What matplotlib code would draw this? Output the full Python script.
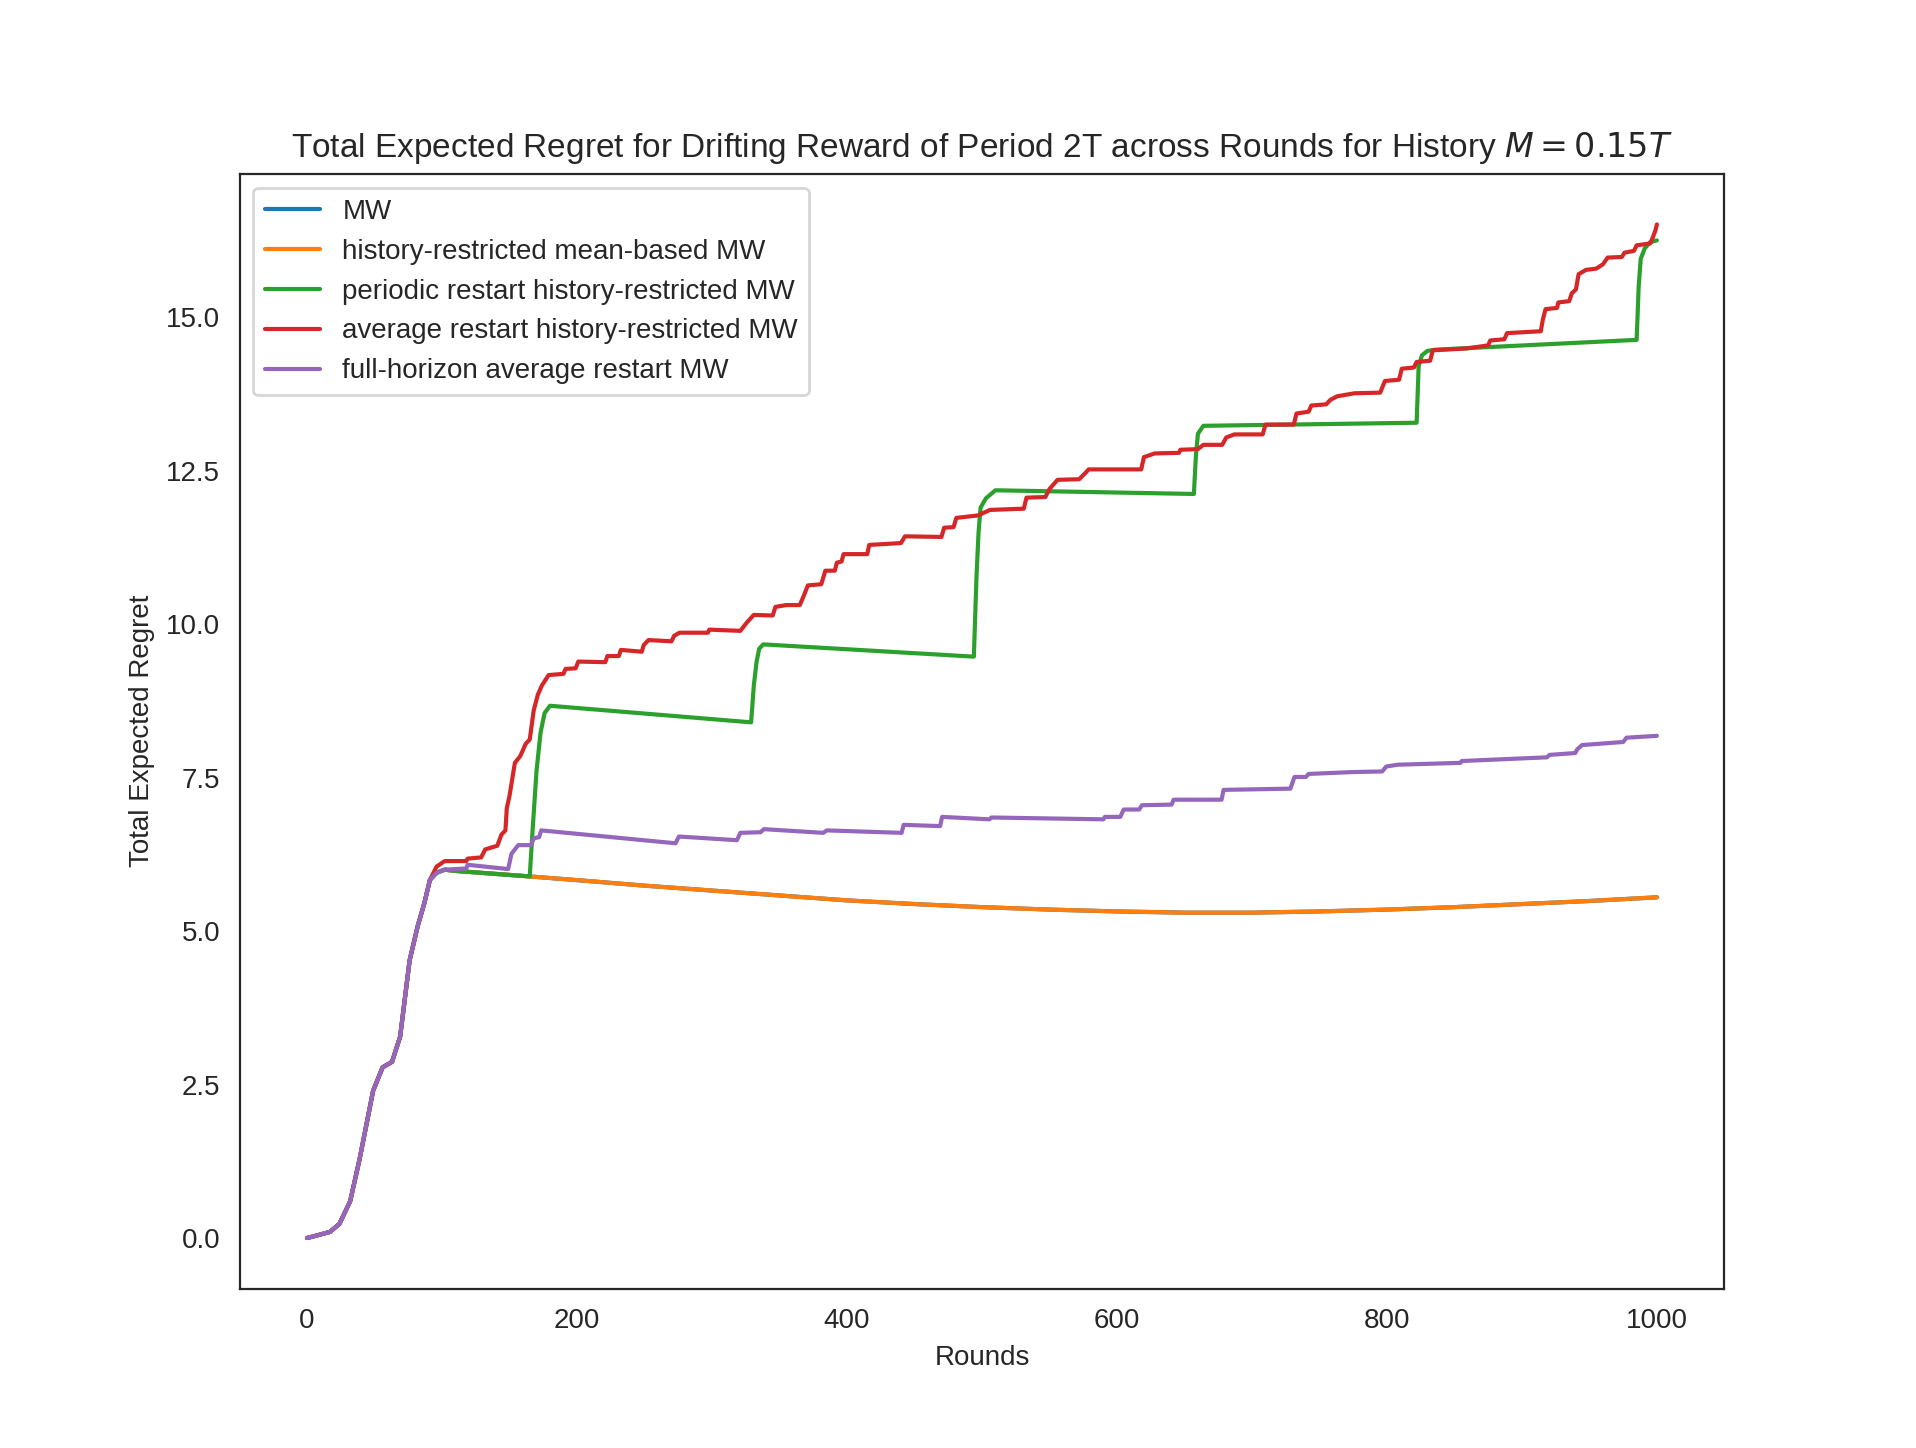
import matplotlib
matplotlib.use('Agg')
import matplotlib.pyplot as plt
import seaborn as sns

# values (round, total expected regret)
rise_x = [0, 7, 17, 24, 32, 39, 49, 56, 63, 69, 76, 82, 87, 91, 96, 102]
rise_y = [0, 0.04, 0.10, 0.23, 0.60, 1.29, 2.40, 2.78, 2.87, 3.28, 4.52, 5.08, 5.46, 5.83, 5.95, 6.0]

mw_x = [110, 165, 200, 250, 300, 350, 400, 450, 500, 550, 600, 650, 700, 750, 800, 850, 900, 950, 1000]
mw_y = [5.98, 5.89, 5.83, 5.74, 5.66, 5.58, 5.50, 5.44, 5.39, 5.35, 5.32, 5.30, 5.30, 5.32, 5.35, 5.39, 5.44, 5.49, 5.55]

periodic_x = [110, 165, 167, 170, 173, 176, 180, 329, 331, 333, 335, 338, 494, 496, 497.5, 499, 503, 510,
              657, 658.5, 660, 664, 822, 823.5, 826, 830, 836, 985, 986.5, 988, 991, 995, 1000]
periodic_y = [5.98, 5.89, 6.6, 7.6, 8.23, 8.55, 8.67, 8.40, 9.0, 9.38, 9.6, 9.67, 9.47, 10.8, 11.5, 11.9, 12.05, 12.18,
              12.12, 12.75, 13.1, 13.23, 13.28, 14.2, 14.38, 14.45, 14.47, 14.63, 15.5, 15.95, 16.12, 16.22, 16.25]

avg_x = [96, 102, 118, 119, 129, 132, 141, 144, 147, 148, 150, 154, 158, 162, 165, 168, 171, 174, 179,
         190, 191.5, 199, 201, 221, 222.5, 231, 232.5, 248, 249.5, 253, 270, 272, 276, 297, 298, 321, 326,
         331, 345, 347, 355, 365, 368, 371, 381, 384, 391, 392.5, 396, 397.5, 415, 416.5, 440, 443, 470,
         472, 479, 481, 497, 500, 506, 531, 533, 547, 550, 556, 572, 577, 579, 618, 620, 628, 646, 647,
         660, 664, 678, 681, 687, 708, 710, 731, 733, 742, 744, 755, 758, 763, 776, 795, 798.5, 809, 811,
         820, 822, 832, 834, 859, 875, 876.5, 887, 889, 914, 915.5, 917.5, 926, 927, 935, 937, 940, 942,
         947.5, 955, 960, 963.5, 974, 976, 983, 985, 995, 997, 999, 1000]
avg_y = [6.05, 6.14, 6.14, 6.18, 6.20, 6.33, 6.39, 6.57, 6.64, 7.0, 7.2, 7.74, 7.85, 8.05, 8.12, 8.6, 8.85, 9.0, 9.17,
         9.19, 9.27, 9.28, 9.39, 9.38, 9.48, 9.48, 9.58, 9.55, 9.66, 9.74, 9.72, 9.81, 9.86, 9.86, 9.91, 9.89, 10.03,
         10.15, 10.14, 10.28, 10.31, 10.31, 10.46, 10.63, 10.65, 10.87, 10.87, 11.0, 11.02, 11.14, 11.14, 11.29, 11.32, 11.43, 11.42,
         11.57, 11.58, 11.73, 11.77, 11.8, 11.86, 11.88, 12.06, 12.07, 12.2, 12.35, 12.36, 12.47, 12.52, 12.52, 12.72, 12.78, 12.79, 12.84,
         12.85, 12.92, 12.92, 13.04, 13.09, 13.09, 13.25, 13.25, 13.43, 13.46, 13.56, 13.58, 13.65, 13.71, 13.76, 13.77, 13.96, 13.98, 14.16,
         14.18, 14.27, 14.29, 14.46, 14.49, 14.54, 14.62, 14.64, 14.74, 14.77, 14.96, 15.13, 15.15, 15.24, 15.26, 15.39, 15.45, 15.70,
         15.77, 15.79, 15.86, 15.97, 15.98, 16.05, 16.08, 16.17, 16.20, 16.30, 16.42, 16.51]

full_x = [118, 119, 149, 151.5, 156.5, 166, 168, 172, 173.5, 273, 275.5, 318.5, 321, 336, 338.5, 382.5, 385,
          440.5, 442, 469, 470.5, 505.5, 507, 590, 591, 602.5, 605, 616.5, 618.5, 640.5, 642, 677.5, 679,
          728.5, 731.5, 740, 742, 775, 796.5, 799.5, 808, 854.5, 855.5, 918.5, 920.5, 939.5, 941, 944.5,
          975, 977.5, 1000]
full_y = [6.02, 6.08, 6.01, 6.26, 6.40, 6.40, 6.51, 6.53, 6.64, 6.43, 6.54, 6.48, 6.60, 6.61, 6.66, 6.60, 6.64,
          6.60, 6.73, 6.71, 6.86, 6.82, 6.85, 6.82, 6.86, 6.86, 6.98, 6.98, 7.05, 7.06, 7.14, 7.14, 7.30,
          7.32, 7.51, 7.51, 7.56, 7.59, 7.60, 7.68, 7.71, 7.74, 7.77, 7.83, 7.87, 7.90, 7.96, 8.03,
          8.08, 8.15, 8.18]

sns.set_style('white')
plt.rcParams['font.family'] = ['Liberation Sans', 'DejaVu Sans']

fig, ax = plt.subplots(figsize=(9.58, 7.24), dpi=200)
ax.plot(rise_x + mw_x, rise_y + mw_y, label='MW')
ax.plot(rise_x + mw_x, rise_y + mw_y, label='history-restricted mean-based MW')
ax.plot(rise_x + periodic_x, rise_y + periodic_y, label='periodic restart history-restricted MW')
ax.plot(rise_x[:-2] + avg_x, rise_y[:-2] + avg_y, label='average restart history-restricted MW')
ax.plot(rise_x + full_x, rise_y + full_y, label='full-horizon average restart MW')

ax.set_title('Total Expected Regret for Drifting Reward of Period 2T across Rounds for History $M = 0.15T$')
ax.set_xlabel('Rounds')
ax.set_ylabel('Total Expected Regret')
ax.legend(loc='upper left')

plt.savefig('out.png', dpi=200)
